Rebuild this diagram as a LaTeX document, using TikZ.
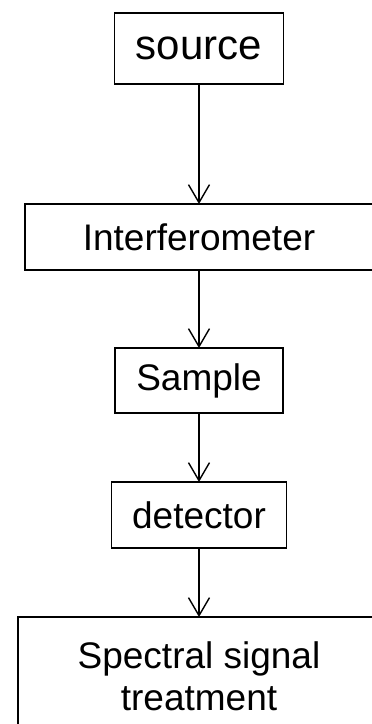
\documentclass[tikz,border=0pt]{standalone}
\usepackage{fontspec}
\setmainfont{Liberation Sans}
\usetikzlibrary{arrows.meta}

\begin{document}
\begin{tikzpicture}[x=1pt, y=-1pt, >={Straight Barb[length=18pt,width=21pt]},
    blok/.style={draw, line width=1.2pt, inner sep=0pt, outer sep=0pt, align=center,
      font=\fontsize{37}{42}\selectfont},
    flow/.style={->, line width=1.4pt}]
    % Parameters
    \def\cx{199} % centre line of the chain

    % Page frame
    \useasboundingbox (0,0) rectangle (372,724);

    % Boxes
    \node[blok, minimum width=169pt, minimum height=71pt,
      font=\fontsize{42}{48}\selectfont] (src) at (\cx,48.5) {source};
    \node[blok, minimum width=348pt, minimum height=66pt] (interf) at (\cx,237) {Interferometer};
    \node[blok, minimum width=168pt, minimum height=65pt] (sample) at (\cx,380.5) {Sample};
    \node[blok, minimum width=175pt, minimum height=66pt] (det) at (\cx,515) {detector};
    \node[blok, minimum width=362pt, minimum height=118pt] (treat) at (\cx,676) {Spectral signal\\treatment};

    % Arrows
    \draw[flow] (src) -- (interf);
    \draw[flow] (interf) -- (sample);
    \draw[flow] (sample) -- (det);
    \draw[flow] (det) -- (treat);
\end{tikzpicture}
\end{document}
